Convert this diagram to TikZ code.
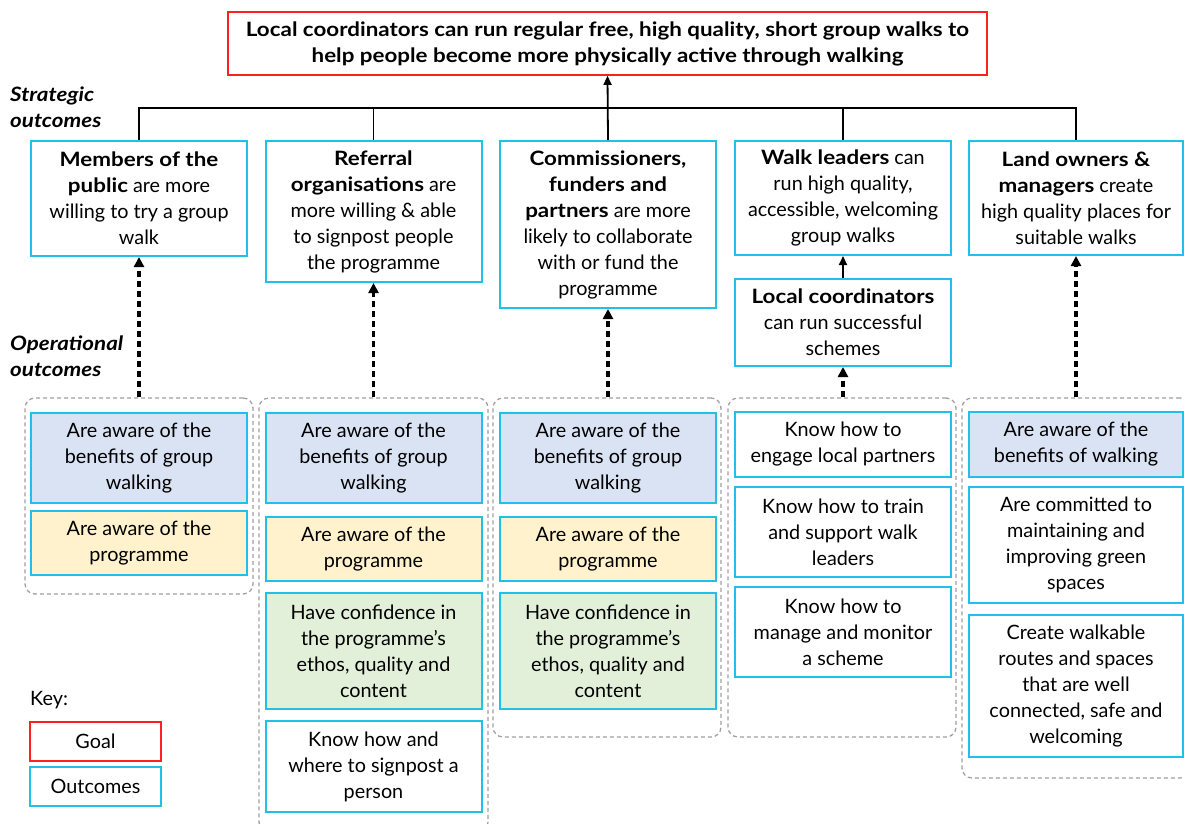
\documentclass[tikz,border=0pt]{standalone}
\usepackage{fontspec}
\setmainfont[BoldFeatures={FakeStretch=1.13},BoldItalicFeatures={FakeStretch=1.13}]{Lato}
\usetikzlibrary{arrows.meta}
\definecolor{goalred}{HTML}{FF2020}
\definecolor{outcyan}{HTML}{1FC0EA}
\definecolor{awareblue}{HTML}{DAE3F3}
\definecolor{progyellow}{HTML}{FFF2CC}
\definecolor{confgreen}{HTML}{E2F0D9}
\definecolor{grpgray}{HTML}{A0A0A0}
\tikzset{
  txt/.style={font=\fontsize{19.8}{26}\selectfont, align=center, inner sep=0pt},
  goalbox/.style={txt, draw=goalred, line width=1.6pt, fill=white},
  outbox/.style={txt, draw=outcyan, line width=2pt, fill=white, minimum width=216pt},
  grpbox/.style={draw=grpgray, dash pattern=on 4pt off 3pt, line width=1.3pt, rounded corners=10pt},
  tree/.style={line width=1.8pt},
  tip/.style={-{Triangle[width=8pt,length=9pt]}},
  dasharrow/.style={-{Triangle[width=10pt,length=10pt]}, line width=3.5pt, dash pattern=on 6pt off 4pt},
}
\begin{document}
\begin{tikzpicture}[x=1pt,y=-1pt]
\useasboundingbox (0,0) rectangle (1184,823);
% goal
\node[goalbox, minimum width=759pt, minimum height=63pt] (goal) at (607.5,43.5) {\textbf{Local coordinators can run regular free, high quality, short group walks to}\\\textbf{help people become more physically active through walking}};
% side labels
\node[txt, anchor=west, align=left] (strat) at (10,107) {\textbf{\textit{Strategic}}\\\textbf{\textit{outcomes}}};
\node[txt, anchor=west, align=left] (oper) at (10,356) {\textbf{\textit{Operational}}\\\textbf{\textit{outcomes}}};
% dashed groups
\node[grpbox, minimum width=228pt, minimum height=196pt] (g1) at (139,496) {};
\node[grpbox, minimum width=229pt, minimum height=434pt] (g2) at (373.5,615) {};
\node[grpbox, minimum width=228pt, minimum height=339pt] (g3) at (607,567.5) {};
\node[grpbox, minimum width=228pt, minimum height=339pt] (g4) at (842,567.5) {};
\node[grpbox, minimum width=228pt, minimum height=380pt] (g5) at (1076,588) {};
% strategic outcomes
\node[outbox, minimum height=115pt] (pub) at (139,198.5) {\textbf{Members of the}\\\textbf{public} are more\\willing to try a group\\walk};
\node[outbox, minimum height=141pt] (ref) at (373.5,211.5) {\textbf{Referral}\\\textbf{organisations} are\\more willing \& able\\to signpost people\\the programme};
\node[outbox, minimum height=167pt] (com) at (608,224.5) {\textbf{Commissioners,}\\\textbf{funders and}\\\textbf{partners} are more\\likely to collaborate\\with or fund the\\programme};
\node[outbox, minimum height=114pt] (walk) at (843,198) {\textbf{Walk leaders} can\\run high quality,\\accessible, welcoming\\group walks};
\node[outbox, minimum height=87pt] (loc) at (843,322.5) {\textbf{Local coordinators}\\can run successful\\schemes};
\node[outbox, minimum width=214pt, minimum height=114pt] (land) at (1076,198) {\textbf{Land owners \&}\\\textbf{managers} create\\high quality places for\\suitable walks};
% tree to goal
\coordinate (bar) at (0,108);
\draw[tree] (pub.north) -- (pub.north |- bar) -- (land.north |- bar) -- (land.north);
\foreach \n in {ref,walk} \draw[tree] (\n.north) -- (\n.north |- bar);
\draw[tree,tip] (com.north) -- (goal.south);
\draw[tree,tip] (loc.north) -- (walk.south);
% operational outcomes
\node[outbox, fill=awareblue, minimum height=90pt] (pubaware) at (139,458) {Are aware of the\\benefits of group\\walking};
\node[outbox, fill=progyellow, minimum height=64pt] (pubprog) at (139,543) {Are aware of the\\programme};
\foreach \c/\x in {ref/373.5, com/608} {
  \node[outbox, fill=awareblue, minimum height=90pt] (\c aware) at (\x,458) {Are aware of the\\benefits of group\\walking};
  \node[outbox, fill=progyellow, minimum height=64pt] (\c prog) at (\x,549) {Are aware of the\\programme};
  \node[outbox, fill=confgreen, minimum height=116pt] (\c conf) at (\x,651) {Have confidence in\\the programme’s\\ethos, quality and\\content};
}
\node[outbox, minimum height=91pt] (refknow) at (373.5,766.5) {Know how and\\where to signpost a\\person};
\node[outbox, minimum height=65pt] (locengage) at (843,444) {Know how to\\engage local partners};
\node[outbox, minimum height=90pt] (loctrain) at (843,532) {Know how to train\\and support walk\\leaders};
\node[outbox, minimum height=90pt] (locmanage) at (843,632) {Know how to\\manage and monitor\\a scheme};
\node[outbox, fill=awareblue, minimum width=214pt, minimum height=65pt] (landaware) at (1076,444) {Are aware of the\\benefits of walking};
\node[outbox, minimum width=214pt, minimum height=116pt] (landcommit) at (1076,545) {Are committed to\\maintaining and\\improving green\\spaces};
\node[outbox, minimum width=214pt, minimum height=142pt] (landroutes) at (1076,686) {Create walkable\\routes and spaces\\that are well\\connected, safe and\\welcoming};
% dashed links
\foreach \g/\b in {g1/pub, g2/ref, g3/com, g4/loc, g5/land}
  \draw[dasharrow] (\b.south |- \g.north) -- (\b.south);
% key
\node[txt, anchor=west] (key) at (30,700) {Key:};
\node[goalbox, minimum width=131pt, minimum height=39pt] (keygoal) at (95.5,741.5) {Goal};
\node[outbox, minimum width=131pt, minimum height=39pt] (keyout) at (95.5,786.5) {Outcomes};
\end{tikzpicture}
\end{document}
